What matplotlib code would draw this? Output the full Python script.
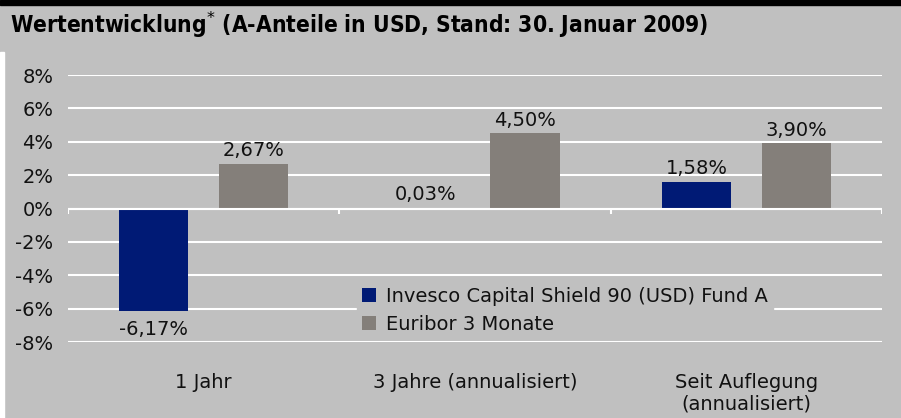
import matplotlib
matplotlib.use("Agg")
import matplotlib.pyplot as plt
import numpy as np

categories = ["1 Jahr", "3 Jahre (annualisiert)", "Seit Auflegung\n(annualisiert)"]
fund = [-6.17, 0.03, 1.58]
euribor = [2.67, 4.50, 3.90]
series_names = ["Invesco Capital Shield 90 (USD) Fund A", "Euribor 3 Monate"]
yticks = [-8, -6, -4, -2, 0, 2, 4, 6, 8]

BG = "#c0c0c0"
BLUE = "#001a75"
GRAY = "#847f7a"
TXT = "#111111"
FS = 14

plt.rcParams['font.family'] = ['DejaVu Sans']
fig = plt.figure(figsize=(9.01, 4.18), dpi=100, facecolor=BG)
ax = fig.add_axes([68/901, 1-342/418, (882-68)/901, (342-75)/418])
ax.set_facecolor(BG)

x = np.arange(len(categories))
w = 0.255
off = 0.184
ax.bar(x - off, fund, w, color=BLUE, label=series_names[0], zorder=3)
ax.bar(x + off, euribor, w, color=GRAY, label=series_names[1], zorder=3)

def fmt(v):
    return ("%.2f%%" % v).replace(".", ",")

def label(xi, v):
    if v < 0:
        ax.annotate(fmt(v), (xi, v), xytext=(0, -6), textcoords="offset points",
                    ha="center", va="top", fontsize=FS, color=TXT)
    else:
        ax.annotate(fmt(v), (xi, v), xytext=(0, 5.5), textcoords="offset points",
                    ha="center", va="baseline", fontsize=FS, color=TXT)

for xi, v in zip(x - off, fund):
    label(xi, v)
for xi, v in zip(x + off, euribor):
    label(xi, v)

ax.set_xlim(-0.5, 2.5)
ax.set_ylim(-8, 8)
ax.set_yticks(yticks)
ax.set_yticklabels(["%d%%" % t for t in yticks], fontsize=FS, color=TXT)
ax.yaxis.grid(True, color="white", linewidth=1.5, zorder=0)
ax.set_axisbelow(True)
ax.tick_params(axis="y", length=0, pad=10.5)
ax.set_xticks(x)
ax.set_xticklabels(categories, fontsize=FS, color=TXT)
ax.tick_params(axis="x", length=0, pad=22)
for s in ax.spines.values():
    s.set_visible(False)
ax.axhline(0, color="white", linewidth=1.5, zorder=4)
# category separator ticks on the zero line
ax.vlines(np.arange(len(categories) + 1) - 0.5, 0, -0.3, color="white", linewidth=1.5, zorder=4)

leg = ax.legend(loc="upper left", bbox_to_anchor=(0.355, 0.224), frameon=True,
                facecolor=BG, edgecolor=BG, framealpha=1, fontsize=FS,
                handlelength=0.75, handleheight=0.75, handletextpad=0.5,
                labelspacing=0.45, borderpad=0.25, borderaxespad=0)
leg.set_zorder(6)
for t in leg.get_texts():
    t.set_color(TXT)

# top black band, left white strip and title
fig.add_artist(plt.Rectangle((0, 1-5/418), 1, 5/418, transform=fig.transFigure,
                             color="black", zorder=5))
fig.add_artist(plt.Rectangle((0, 0), 4/901, 1-52/418, transform=fig.transFigure,
                             color="white", zorder=5))
fig.text(10/901, 1-25/418, "Wertentwicklung$^{*}$ (A-Anteile in USD, Stand: 30. Januar 2009)",
         fontsize=16.3, fontweight="bold", stretch="condensed",
         va="center", ha="left", color="black")

fig.savefig("out.png", dpi=100, facecolor=BG)
